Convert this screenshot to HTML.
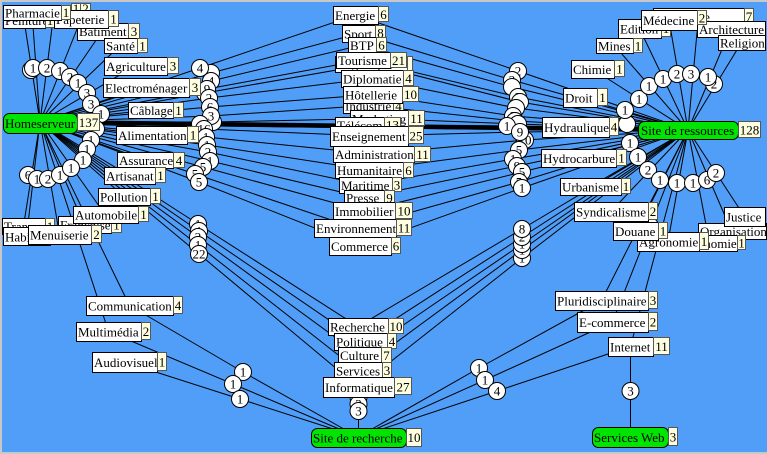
<!DOCTYPE html>
<html><head><meta charset="utf-8">
<style>
html,body{margin:0;padding:0;background:#509ef8;}
svg{display:block}
.e{stroke:#000;stroke-width:1;fill:none}
.l{fill:#fff;stroke:#000;stroke-width:1}
.c{fill:#ffffe0;stroke:#555;stroke-width:1}
.g{fill:#00e400;stroke:#000;stroke-width:1}
.n{fill:#fff;stroke:#000;stroke-width:1}
text{font-family:"Liberation Serif",serif;font-size:13px;fill:#000}
.m{text-anchor:middle}
</style></head>
<body>
<svg width="767" height="454" viewBox="0 0 767 454" xmlns="http://www.w3.org/2000/svg">
<rect x="0" y="0" width="767" height="454" fill="#509ef8"/>

<!-- edges -->
<g class="e">
<path d="M40 122L24 20M40 122L54 12M40 122L32 12.5M40 122L81 19M40 122L102 31.5M40 122L120 45.5M40 122L135 66M40 122L146 87.5M40 122L150 110M40 122L151 135M40 122L145 160M40 122L129 175.5M40 122L124 196.5M40 122L105 214.5M40 122L84 224.5M40 122L59.5 234.5M40 122L26.5 236.5M40 122L23.5 226M40 122L129.5 305.5M40 122L108.5 331.5"/>
<polyline points="40,122 200,68 355.5,15 518,71 688,130"/>
<polyline points="40,122 211,73 358.5,33.5 512,80 688,130"/>
<polyline points="40,122 211,81 362,45 512,87 688,130"/>
<polyline points="40,122 207,89 363,60 518,97 688,130"/>
<polyline points="40,122 205,93 371,64 520,102 688,130"/>
<polyline points="40,122 209,98 372,78.5 516,108 688,130"/>
<polyline points="40,122 210,107 372.5,94.5 513,116 688,130"/>
<polyline points="40,122 211,116 368,105.5 515,121 688,130"/>
<polyline points="40,122 213,122 379,118.5 518,124 688,130"/>
<polyline points="40,122 200,124 359.5,125 507,126 688,130"/>
<polyline points="40,122 204,129 369,136 520,132 688,130"/>
<polyline points="40,122 206,137 373.5,154 525,140 688,130"/>
<polyline points="40,122 207,145 369,170 519,150 688,130"/>
<polyline points="40,122 208,152 365.5,185 513,159 688,130"/>
<polyline points="40,122 210,161 364,197.5 517,166 688,130"/>
<polyline points="40,122 203,167 364,211 522,172 688,130"/>
<polyline points="40,122 195,174 355,228 519,182 688,130"/>
<polyline points="40,122 199,182 360,246 522,188 688,130"/>
<polyline points="40,122 198,224 358,326.5 522,229 688,130"/>
<polyline points="40,122 199,231 360.5,341.5 522,237 688,130"/>
<polyline points="40,122 198,237 359.5,355 522,244 688,130"/>
<polyline points="40,122 198,245 358,370.5 522,250 688,130"/>
<polyline points="40,122 199,254 358.5,387 522,258 688,130"/>
<path d="M358.5 437L358.5 326"/>
<polyline points="358,437 243,372 129.5,305.5"/>
<polyline points="358,437 233,384 108.5,331.5"/>
<polyline points="358,437 240,399 124.5,362"/>
<polyline points="358,437 479,368 601.5,300.5"/>
<polyline points="358,437 485,380 612.5,322"/>
<polyline points="358,437 497,391 630.5,346.5"/>
<path d="M688 130L601.5 300.5M688 130L612.5 322M688 130L630.5 346.5M630.5 346L630.5 437"/>
<path d="M688 130L698.5 16.5M688 130L639.5 28.5M688 130L669 20M688 130L731 28M688 130L741.5 42.5M688 130L614.5 45.5M688 130L592.5 69M688 130L580 97.5M688 130L575.5 127M688 130L578.5 158M688 130L590.5 186.5M688 130L611 211.5M688 130L635.5 231M688 130L668 241.5M688 130L709.5 243M688 130L731.5 231M688 130L744.5 216.5"/>
</g>
<path d="M40 122L688 130" stroke="#000" stroke-width="4.5" fill="none"/>
<path d="M100 121.5L640 128.5M100 124.5L640 131" stroke="#000" stroke-width="1.2" fill="none"/>

<!-- circles -->
<g>
<circle class="n" cx="31" cy="70" r="8.5"/>
<circle class="n" cx="33" cy="68" r="8.5"/><text x="33" y="72.5" class="m">1</text>
<circle class="n" cx="47" cy="68" r="8.5"/><text x="47" y="72.5" class="m">2</text>
<circle class="n" cx="60" cy="71" r="8.5"/><text x="60" y="75.5" class="m">1</text>
<circle class="n" cx="70" cy="77" r="8.5"/><text x="70" y="81.5" class="m">2</text>
<circle class="n" cx="78" cy="83" r="8.5"/><text x="78" y="87.5" class="m">1</text>
<circle class="n" cx="87" cy="93" r="8.5"/><text x="87" y="97.5" class="m">3</text>
<circle class="n" cx="91" cy="104" r="8.5"/><text x="91" y="108.5" class="m">3</text>
<circle class="n" cx="101" cy="114" r="8.5"/><text x="101" y="118.5" class="m">1</text>
<circle class="n" cx="96" cy="129" r="8.5"/>
<circle class="n" cx="91" cy="140" r="8.5"/><text x="91" y="144.5" class="m">1</text>
<circle class="n" cx="87" cy="149" r="8.5"/><text x="87" y="153.5" class="m">1</text>
<circle class="n" cx="83" cy="160" r="8.5"/><text x="83" y="164.5" class="m">1</text>
<circle class="n" cx="28" cy="175" r="8.5"/><text x="28" y="179.5" class="m">6</text>
<circle class="n" cx="37" cy="179" r="8.5"/><text x="37" y="183.5" class="m">1</text>
<circle class="n" cx="48" cy="179" r="8.5"/><text x="48" y="183.5" class="m">2</text>
<circle class="n" cx="60" cy="175" r="8.5"/><text x="60" y="179.5" class="m">1</text>
<circle class="n" cx="71" cy="168" r="8.5"/><text x="71" y="172.5" class="m">1</text>
<circle class="n" cx="211" cy="73" r="8.5"/>
<circle class="n" cx="200" cy="68" r="8.5"/><text x="200" y="72.5" class="m">4</text>
<circle class="n" cx="211" cy="81" r="8.5"/><text x="211" y="85.5" class="m">4</text>
<circle class="n" cx="205" cy="93" r="8.5"/>
<circle class="n" cx="207" cy="89" r="8.5"/><text x="207" y="93.5" class="m">9</text>
<circle class="n" cx="209" cy="98" r="8.5"/><text x="209" y="102.5" class="m">2</text>
<circle class="n" cx="210" cy="107" r="8.5"/><text x="210" y="111.5" class="m">6</text>
<circle class="n" cx="213" cy="122" r="8.5"/>
<circle class="n" cx="211" cy="116" r="8.5"/><text x="211" y="120.5" class="m">3</text>
<circle class="n" cx="200" cy="124" r="8.5"/>
<circle class="n" cx="204" cy="129" r="8.5"/><text x="204" y="133.5" class="m">16</text>
<circle class="n" cx="206" cy="137" r="8.5"/><text x="206" y="141.5" class="m">1</text>
<circle class="n" cx="207" cy="145" r="8.5"/><text x="207" y="149.5" class="m">1</text>
<circle class="n" cx="208" cy="152" r="8.5"/><text x="208" y="156.5" class="m">2</text>
<circle class="n" cx="210" cy="161" r="8.5"/><text x="210" y="165.5" class="m">1</text>
<circle class="n" cx="203" cy="167" r="8.5"/><text x="203" y="171.5" class="m">5</text>
<circle class="n" cx="195" cy="174" r="8.5"/><text x="195" y="178.5" class="m">5</text>
<circle class="n" cx="199" cy="182" r="8.5"/><text x="199" y="186.5" class="m">5</text>
<circle class="n" cx="198" cy="224" r="8.5"/><text x="198" y="228.5" class="m">1</text>
<circle class="n" cx="199" cy="231" r="8.5"/><text x="199" y="235.5" class="m">1</text>
<circle class="n" cx="198" cy="237" r="8.5"/><text x="198" y="241.5" class="m">2</text>
<circle class="n" cx="198" cy="245" r="8.5"/><text x="198" y="249.5" class="m">1</text>
<circle class="n" cx="199" cy="254" r="8.5"/><text x="199" y="258.5" class="m">22</text>
<circle class="n" cx="518" cy="71" r="8.5"/><text x="518" y="75.5" class="m">2</text>
<circle class="n" cx="512" cy="80" r="8.5"/><text x="512" y="84.5" class="m">2</text>
<circle class="n" cx="512" cy="87" r="8.5"/>
<circle class="n" cx="518" cy="97" r="8.5"/><text x="518" y="101.5" class="m">2</text>
<circle class="n" cx="520" cy="102" r="8.5"/>
<circle class="n" cx="516" cy="108" r="8.5"/>
<circle class="n" cx="513" cy="116" r="8.5"/><text x="513" y="120.5" class="m">2</text>
<circle class="n" cx="515" cy="121" r="8.5"/>
<circle class="n" cx="518" cy="124" r="8.5"/>
<circle class="n" cx="507" cy="126" r="8.5"/><text x="507" y="130.5" class="m">1</text>
<circle class="n" cx="525" cy="140" r="8.5"/><text x="525" y="144.5" class="m">10</text>
<circle class="n" cx="520" cy="132" r="8.5"/><text x="520" y="136.5" class="m">9</text>
<circle class="n" cx="519" cy="150" r="8.5"/><text x="519" y="154.5" class="m">5</text>
<circle class="n" cx="513" cy="159" r="8.5"/><text x="513" y="163.5" class="m">1</text>
<circle class="n" cx="517" cy="166" r="8.5"/><text x="517" y="170.5" class="m">9</text>
<circle class="n" cx="522" cy="172" r="8.5"/><text x="522" y="176.5" class="m">5</text>
<circle class="n" cx="519" cy="182" r="8.5"/><text x="519" y="186.5" class="m">5</text>
<circle class="n" cx="522" cy="188" r="8.5"/><text x="522" y="192.5" class="m">1</text>
<circle class="n" cx="522" cy="258" r="8.5"/><text x="522" y="262.5" class="m">1</text>
<circle class="n" cx="522" cy="250" r="8.5"/><text x="522" y="254.5" class="m">1</text>
<circle class="n" cx="522" cy="244" r="8.5"/><text x="522" y="248.5" class="m">1</text>
<circle class="n" cx="522" cy="237" r="8.5"/><text x="522" y="241.5" class="m">2</text>
<circle class="n" cx="522" cy="229" r="8.5"/><text x="522" y="233.5" class="m">8</text>
<circle class="n" cx="243" cy="372" r="8.5"/><text x="243" y="376.5" class="m">1</text>
<circle class="n" cx="233" cy="384" r="8.5"/><text x="233" y="388.5" class="m">1</text>
<circle class="n" cx="240" cy="399" r="8.5"/><text x="240" y="403.5" class="m">1</text>
<circle class="n" cx="479" cy="368" r="8.5"/><text x="479" y="372.5" class="m">1</text>
<circle class="n" cx="485" cy="380" r="8.5"/><text x="485" y="384.5" class="m">1</text>
<circle class="n" cx="497" cy="391" r="8.5"/><text x="497" y="395.5" class="m">4</text>
<circle class="n" cx="358.5" cy="382" r="8.5"/>
<circle class="n" cx="358.5" cy="389" r="8.5"/>
<circle class="n" cx="358.5" cy="397" r="8.5"/><text x="358.5" y="401.5" class="m">3</text>
<circle class="n" cx="358.5" cy="404" r="8.5"/><text x="358.5" y="408.5" class="m">3</text>
<circle class="n" cx="358.5" cy="411" r="8.5"/><text x="358.5" y="415.5" class="m">3</text>
<circle class="n" cx="714" cy="84" r="8.5"/><text x="714" y="88.5" class="m">2</text>
<circle class="n" cx="639" cy="99" r="8.5"/><text x="639" y="103.5" class="m">1</text>
<circle class="n" cx="649" cy="86" r="8.5"/><text x="649" y="90.5" class="m">1</text>
<circle class="n" cx="663" cy="79" r="8.5"/><text x="663" y="83.5" class="m">1</text>
<circle class="n" cx="677" cy="74" r="8.5"/><text x="677" y="78.5" class="m">2</text>
<circle class="n" cx="691" cy="74" r="8.5"/><text x="691" y="78.5" class="m">3</text>
<circle class="n" cx="708" cy="77" r="8.5"/><text x="708" y="81.5" class="m">1</text>
<circle class="n" cx="627" cy="124" r="8.5"/>
<circle class="n" cx="625" cy="110" r="8.5"/><text x="625" y="114.5" class="m">1</text>
<circle class="n" cx="630" cy="143" r="8.5"/><text x="630" y="147.5" class="m">1</text>
<circle class="n" cx="638" cy="157" r="8.5"/><text x="638" y="161.5" class="m">1</text>
<circle class="n" cx="648" cy="170" r="8.5"/><text x="648" y="174.5" class="m">2</text>
<circle class="n" cx="660" cy="180" r="8.5"/><text x="660" y="184.5" class="m">1</text>
<circle class="n" cx="677" cy="183" r="8.5"/><text x="677" y="187.5" class="m">1</text>
<circle class="n" cx="693" cy="183" r="8.5"/><text x="693" y="187.5" class="m">1</text>
<circle class="n" cx="707" cy="180" r="8.5"/><text x="707" y="184.5" class="m">6</text>
<circle class="n" cx="716" cy="173" r="8.5"/><text x="716" y="177.5" class="m">2</text>
<circle class="n" cx="644.5" cy="215" r="8.5"/>
<circle class="n" cx="650" cy="226" r="8.5"/>
<circle class="n" cx="659" cy="238" r="8.5"/>
<circle class="n" cx="630.5" cy="391" r="8.5"/><text x="630.5" y="395.5" class="m">3</text>
</g>

<!-- labels left -->
<g>
<rect class="c" x="71.5" y="3.5" width="9" height="14"/><text x="76" y="13" class="m">1</text>
<rect class="c" x="80.5" y="3.5" width="10" height="14"/><text x="85.5" y="13" class="m">2</text>
<rect class="l" x="3.5" y="12.5" width="42" height="16"/><text x="5" y="25">Peinture</text>
<rect class="c" x="45.5" y="12.5" width="9" height="15"/><text x="50" y="25" class="m">1</text>
<rect class="l" x="77.5" y="23.5" width="51" height="17"/><text x="79" y="36">Batiment</text>
<rect class="c" x="128.5" y="23.5" width="11" height="15"/><text x="134" y="36" class="m">3</text>
<rect class="l" x="54.5" y="10.5" width="54" height="18"/><text x="56" y="24">Papeterie</text>
<rect class="c" x="108.5" y="10.5" width="10" height="16"/><text x="113.5" y="23.5" class="m">1</text>
<rect class="l" x="3.5" y="5.5" width="58" height="15"/><text x="5" y="17.5">Pharmacie</text>
<rect class="c" x="61.5" y="5.5" width="9" height="14"/><text x="66" y="17" class="m">1</text>
<rect class="l" x="104.5" y="38.5" width="33" height="15"/><text x="106" y="50.5">Santé</text>
<rect class="c" x="137.5" y="38.5" width="10" height="14"/><text x="142.5" y="50.5" class="m">1</text>
<rect class="l" x="104.5" y="57.5" width="63" height="18"/><text x="106" y="71">Agriculture</text>
<rect class="c" x="167.5" y="57.5" width="11" height="16"/><text x="173" y="70.5" class="m">3</text>
<rect class="l" x="103.5" y="78.5" width="86" height="19"/><text x="105" y="92.5">Electroménager</text>
<rect class="c" x="189.5" y="78.5" width="11" height="17"/><text x="195" y="92" class="m">3</text>
<rect class="l" x="128.5" y="102.5" width="45" height="16"/><text x="130" y="115">Câblage</text>
<rect class="c" x="173.5" y="102.5" width="10" height="15"/><text x="178.5" y="115" class="m">1</text>
<rect class="l" x="116.5" y="126.5" width="71" height="18"/><text x="118" y="140">Alimentation</text>
<rect class="c" x="187.5" y="126.5" width="11" height="16"/><text x="193" y="139.5" class="m">1</text>
<rect class="l" x="117.5" y="152.5" width="56" height="16"/><text x="119" y="165">Assurance</text>
<rect class="c" x="173.5" y="152.5" width="11" height="15"/><text x="179" y="165" class="m">4</text>
<rect class="l" x="104.5" y="167.5" width="51" height="17"/><text x="106" y="180.5">Artisanat</text>
<rect class="c" x="155.5" y="167.5" width="10" height="15"/><text x="160.5" y="180" class="m">1</text>
<rect class="l" x="98.5" y="188.5" width="52" height="17"/><text x="100" y="201.5">Pollution</text>
<rect class="c" x="150.5" y="188.5" width="10" height="15"/><text x="155.5" y="201" class="m">1</text>
<rect class="l" x="2.5" y="218.5" width="43" height="16"/><text x="4" y="231">Transport</text>
<rect class="c" x="45.5" y="218.5" width="9" height="15"/><text x="50" y="231" class="m">1</text>
<rect class="l" x="3.5" y="227.5" width="47" height="18"/><text x="5" y="241.5">Habitat</text>
<rect class="l" x="58.5" y="216.5" width="53" height="17"/><text x="60" y="229.5">Franchise</text>
<rect class="c" x="111.5" y="216.5" width="10" height="16"/><text x="116.5" y="229.5" class="m">1</text>
<rect class="l" x="73.5" y="206.5" width="65" height="17"/><text x="75" y="219.5">Automobile</text>
<rect class="c" x="138.5" y="206.5" width="10" height="15"/><text x="143.5" y="219" class="m">1</text>
<rect class="l" x="28.5" y="225.5" width="63" height="19"/><text x="30" y="239.5">Menuiserie</text>
<rect class="c" x="91.5" y="225.5" width="10" height="17"/><text x="96.5" y="239" class="m">2</text>
<rect class="l" x="86.5" y="296.5" width="87" height="19"/><text x="88" y="310.5">Communication</text>
<rect class="c" x="173.5" y="296.5" width="9" height="17"/><text x="178" y="310" class="m">4</text>
<rect class="l" x="76.5" y="322.5" width="65" height="19"/><text x="78" y="336.5">Multimédia</text>
<rect class="c" x="141.5" y="322.5" width="9" height="17"/><text x="146" y="336" class="m">2</text>
<rect class="l" x="92.5" y="352.5" width="65" height="20"/><text x="94" y="367">Audiovisuel</text>
<rect class="c" x="157.5" y="352.5" width="9" height="18"/><text x="162" y="366.5" class="m">1</text>
</g>

<!-- labels center -->
<g>
<rect class="l" x="333.5" y="6.5" width="45" height="18"/><text x="335" y="20">Energie</text>
<rect class="c" x="378.5" y="6.5" width="10" height="15"/><text x="383.5" y="19" class="m">6</text>
<rect class="l" x="342.5" y="25.5" width="33" height="17"/><text x="344" y="38.5">Sport</text>
<rect class="c" x="375.5" y="25.5" width="10" height="14"/><text x="380.5" y="37.5" class="m">8</text>
<rect class="l" x="348.5" y="37.5" width="28" height="16"/><text x="350" y="50">BTP</text>
<rect class="c" x="376.5" y="37.5" width="10" height="14"/><text x="381.5" y="49.5" class="m">6</text>
<rect class="l" x="335.5" y="56.5" width="72" height="16"/><text x="337" y="69">Logistique</text>
<rect class="c" x="407.5" y="56.5" width="5" height="14"/>
<rect class="l" x="336.5" y="52.5" width="54" height="16"/><text x="338" y="65">Tourisme</text>
<rect class="c" x="390.5" y="52.5" width="16" height="15"/><text x="398.5" y="65" class="m">21</text>
<rect class="l" x="341.5" y="70.5" width="62" height="17"/><text x="343" y="83.5">Diplomatie</text>
<rect class="c" x="403.5" y="70.5" width="10" height="15"/><text x="408.5" y="83" class="m">4</text>
<rect class="l" x="343.5" y="98.5" width="50" height="15"/><text x="345" y="110.5">Industrie</text>
<rect class="c" x="393.5" y="98.5" width="10" height="14"/><text x="398.5" y="110.5" class="m">4</text>
<rect class="l" x="343.5" y="86.5" width="59" height="17"/><text x="345" y="99.5">Hôtellerie</text>
<rect class="c" x="402.5" y="86.5" width="16" height="15"/><text x="410.5" y="99" class="m">10</text>
<rect class="l" x="350.5" y="110.5" width="58" height="17"/><text x="352" y="123.5">Marketing</text>
<rect class="c" x="408.5" y="110.5" width="16" height="15"/><text x="416.5" y="123" class="m">11</text>
<rect class="l" x="335.5" y="117.5" width="49" height="16"/><text x="337" y="130">Télécom</text>
<rect class="c" x="384.5" y="117.5" width="16" height="14"/><text x="392.5" y="129.5" class="m">13</text>
<rect class="l" x="330.5" y="126.5" width="78" height="20"/><text x="332" y="141">Enseignement</text>
<rect class="c" x="408.5" y="126.5" width="15" height="17"/><text x="416" y="140.5" class="m">25</text>
<rect class="l" x="333.5" y="146.5" width="81" height="16"/><text x="335" y="159">Administration</text>
<rect class="c" x="414.5" y="146.5" width="16" height="15"/><text x="422.5" y="159" class="m">11</text>
<rect class="l" x="335.5" y="162.5" width="68" height="16"/><text x="337" y="175">Humanitaire</text>
<rect class="c" x="403.5" y="162.5" width="10" height="15"/><text x="408.5" y="175" class="m">6</text>
<rect class="l" x="339.5" y="177.5" width="53" height="16"/><text x="341" y="190">Maritime</text>
<rect class="c" x="392.5" y="177.5" width="9" height="14"/><text x="397" y="189.5" class="m">3</text>
<rect class="l" x="344.5" y="190.5" width="40" height="15"/><text x="346" y="202.5">Presse</text>
<rect class="c" x="384.5" y="190.5" width="10" height="14"/><text x="389.5" y="202.5" class="m">9</text>
<rect class="l" x="333.5" y="202.5" width="62" height="18"/><text x="335" y="216">Immobilier</text>
<rect class="c" x="395.5" y="202.5" width="17" height="16"/><text x="404" y="215.5" class="m">10</text>
<rect class="l" x="314.5" y="219.5" width="82" height="18"/><text x="316" y="233">Environnement</text>
<rect class="c" x="396.5" y="219.5" width="15" height="16"/><text x="404" y="232.5" class="m">11</text>
<rect class="l" x="329.5" y="237.5" width="62" height="18"/><text x="331" y="251">Commerce</text>
<rect class="c" x="391.5" y="237.5" width="9" height="16"/><text x="396" y="250.5" class="m">6</text>

<rect class="l" x="328.5" y="318.5" width="60" height="17"/><text x="330" y="331.5">Recherche</text>
<rect class="c" x="388.5" y="318.5" width="15" height="15"/><text x="396" y="331" class="m">10</text>
<rect class="l" x="334.5" y="333.5" width="53" height="17"/><text x="336" y="346.5">Politique</text>
<rect class="c" x="387.5" y="333.5" width="9" height="15"/><text x="392" y="346" class="m">4</text>
<rect class="l" x="338.5" y="347.5" width="43" height="16"/><text x="340" y="360">Culture</text>
<rect class="c" x="381.5" y="347.5" width="10" height="15"/><text x="386.5" y="360" class="m">7</text>
<rect class="l" x="334.5" y="362.5" width="48" height="17"/><text x="336" y="375.5">Services</text>
<rect class="c" x="382.5" y="362.5" width="9" height="15"/><text x="387" y="375" class="m">3</text>
<rect class="l" x="323.5" y="377.5" width="71" height="20"/><text x="325" y="392">Informatique</text>
<rect class="c" x="394.5" y="377.5" width="17" height="17"/><text x="403" y="391.5" class="m">27</text>
</g>

<!-- labels right -->
<g>
<rect class="l" x="653.5" y="8.5" width="91" height="17"/><text x="655" y="21.5">Statistique</text>
<rect class="c" x="744.5" y="8.5" width="9" height="15"/><text x="749" y="21" class="m">7</text>
<rect class="l" x="618.5" y="19.5" width="43" height="19"/><text x="620" y="33.5">Edition</text>
<rect class="c" x="661.5" y="19.5" width="9" height="17"/><text x="666" y="33" class="m">1</text>
<rect class="l" x="697.5" y="21.5" width="68" height="16"/><text x="699" y="34">Architecture</text>
<rect class="l" x="641.5" y="10.5" width="56" height="20"/><text x="643" y="25">Médecine</text>
<rect class="c" x="697.5" y="10.5" width="9" height="14"/><text x="702" y="22.5" class="m">2</text>
<rect class="l" x="718.5" y="35.5" width="47" height="15"/><text x="720" y="47.5">Religion</text>
<rect class="l" x="596.5" y="38.5" width="37" height="15"/><text x="598" y="50.5">Mines</text>
<rect class="c" x="633.5" y="38.5" width="9" height="14"/><text x="638" y="50.5" class="m">1</text>
<rect class="l" x="571.5" y="60.5" width="43" height="18"/><text x="573" y="74">Chimie</text>
<rect class="c" x="614.5" y="60.5" width="10" height="16"/><text x="619.5" y="73.5" class="m">1</text>
<rect class="l" x="563.5" y="88.5" width="34" height="19"/><text x="565" y="102.5">Droit</text>
<rect class="c" x="597.5" y="88.5" width="10" height="17"/><text x="602.5" y="102" class="m">1</text>
<rect class="l" x="542.5" y="117.5" width="67" height="20"/><text x="544" y="132">Hydraulique</text>
<rect class="c" x="609.5" y="117.5" width="9" height="18"/><text x="614" y="131.5" class="m">4</text>
<rect class="l" x="541.5" y="149.5" width="75" height="18"/><text x="543" y="163">Hydrocarbure</text>
<rect class="c" x="616.5" y="149.5" width="10" height="16"/><text x="621.5" y="162.5" class="m">1</text>
<rect class="l" x="560.5" y="178.5" width="61" height="17"/><text x="562" y="191.5">Urbanisme</text>
<rect class="c" x="621.5" y="178.5" width="9" height="15"/><text x="626" y="191" class="m">1</text>
<rect class="l" x="574.5" y="202.5" width="74" height="19"/><text x="576" y="216.5">Syndicalisme</text>
<rect class="c" x="648.5" y="202.5" width="9" height="17"/><text x="653" y="216" class="m">2</text>
<rect class="l" x="698.5" y="223.5" width="68" height="16"/><text x="700" y="236">Organisation</text>
<rect class="l" x="724.5" y="207.5" width="41" height="19"/><text x="726" y="221.5">Justice</text>
<rect class="l" x="682.5" y="235.5" width="55" height="16"/><text x="684" y="248">Économie</text>
<rect class="c" x="737.5" y="235.5" width="8" height="14"/><text x="741.5" y="247.5" class="m">1</text>
<rect class="l" x="637.5" y="232.5" width="62" height="19"/><text x="639" y="246.5">Agronomie</text>
<rect class="c" x="699.5" y="232.5" width="9" height="17"/><text x="704" y="246" class="m">1</text>
<rect class="l" x="613.5" y="222.5" width="45" height="18"/><text x="615" y="236">Douane</text>
<rect class="c" x="658.5" y="222.5" width="9" height="16"/><text x="663" y="235.5" class="m">1</text>
<rect class="l" x="555.5" y="291.5" width="93" height="19"/><text x="557" y="305.5">Pluridisciplinaire</text>
<rect class="c" x="648.5" y="291.5" width="9" height="17"/><text x="653" y="305" class="m">3</text>
<rect class="l" x="577.5" y="312.5" width="71" height="20"/><text x="579" y="327">E-commerce</text>
<rect class="c" x="648.5" y="312.5" width="9" height="18"/><text x="653" y="326.5" class="m">2</text>
<rect class="l" x="608.5" y="337.5" width="45" height="19"/><text x="610" y="351.5">Internet</text>
<rect class="c" x="653.5" y="337.5" width="16" height="17"/><text x="661.5" y="351" class="m">11</text>
</g>

<!-- hubs -->
<g>
<rect class="g" x="3.5" y="113.5" width="74" height="20" rx="6"/><text x="5" y="128">Homeserveur</text>
<rect class="c" x="77.5" y="113.5" width="22" height="17"/><text x="88.5" y="127" class="m">137</text>
<rect class="g" x="638.5" y="121.5" width="100" height="18" rx="6"/><text x="641" y="135">Site de ressources</text>
<rect class="c" x="738.5" y="121.5" width="22" height="16"/><text x="749.5" y="134.5" class="m">128</text>
<rect class="g" x="311.5" y="428.5" width="95" height="19" rx="6"/><text x="313" y="442.5">Site de recherche</text>
<rect class="c" x="406.5" y="428.5" width="15" height="18"/><text x="414" y="442" class="m">10</text>
<rect class="g" x="592.5" y="427.5" width="76" height="20" rx="6"/><text x="594" y="442">Services Web</text>
<rect class="c" x="668.5" y="427.5" width="9" height="18"/><text x="673" y="441.5" class="m">3</text>
</g>

<!-- frame -->
<rect x="0" y="0" width="767" height="2" fill="#c8c8c8"/>
<rect x="0" y="0" width="2" height="454" fill="#c8c8c8"/>
<rect x="0" y="452" width="767" height="2" fill="#c8c8c8"/>
</svg>
</body></html>
